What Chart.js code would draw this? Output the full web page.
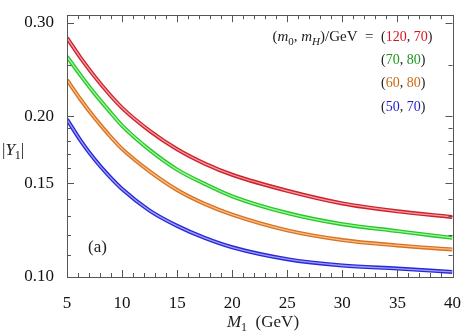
<!DOCTYPE html>
<html>
<head>
<meta charset="utf-8">
<script src="https://cdn.jsdelivr.net/npm/chart.js@4.4.0/dist/chart.umd.min.js"></script>
<style>
  html, body { margin: 0; padding: 0; background: #fff; }
  #wrap { width: 469px; height: 336px; }
</style>
</head>
<body>
<div id="wrap"><canvas id="myChart" width="469" height="336"></canvas></div>
<script>
// M1 (GeV) sample points
const mass = [5, 6.25, 7.5, 8.75, 10, 12.5, 15, 17.5, 20, 25, 30, 35, 40];
// |Y1| for each (m0, mH) pair
const y120_70 = [0.2809, 0.2573, 0.2378, 0.2213, 0.2076, 0.1880, 0.1736, 0.1632, 0.1555, 0.1451, 0.1374, 0.1328, 0.1296];
const y70_80 = [0.2590, 0.2386, 0.2209, 0.2058, 0.1923, 0.1731, 0.1590, 0.1495, 0.1417, 0.1318, 0.1256, 0.1219, 0.1184];
const y60_80 = [0.2343, 0.2150, 0.1988, 0.1853, 0.1739, 0.1578, 0.1456, 0.1371, 0.1309, 0.1223, 0.1173, 0.1146, 0.1126];
const y50_70 = [0.1975, 0.1800, 0.1662, 0.1552, 0.1462, 0.1332, 0.1247, 0.1184, 0.1137, 0.1080, 0.1051, 0.1037, 0.1022];

const pairs = [['120', '70'], ['70', '80'], ['60', '80'], ['50', '70']];
const xTicks = [5, 10, 15, 20, 25, 30, 35, 40];
const yTicks = [0.10, 0.15, 0.20, 0.30];
const yMinor = [0.11, 0.12, 0.13, 0.14, 0.16, 0.17, 0.18, 0.19, 0.25];

const edge = ['rgb(205,35,45)', 'rgb(40,200,40)', 'rgb(215,115,35)', 'rgb(40,40,215)'];
const core = ['rgb(245,160,165)', 'rgb(165,245,165)', 'rgb(250,190,135)', 'rgb(160,160,250)'];
const textCol = ['rgb(215,20,30)', 'rgb(30,150,30)', 'rgb(200,105,20)', 'rgb(30,30,215)'];

const series = [y120_70, y70_80, y60_80, y50_70];
const datasets = [];
series.forEach((vals, i) => {
    const pts = mass.map((m, k) => ({x: m, y: vals[k]}));
    datasets.push({data: pts, borderColor: edge[i], borderWidth: 4, pointRadius: 0,
        cubicInterpolationMode: 'monotone', order: 1});
    datasets.push({data: pts, borderColor: core[i], borderWidth: 1.3, pointRadius: 0,
        cubicInterpolationMode: 'monotone', order: 0});
});

const SERIF = '"Liberation Serif", "DejaVu Serif", serif';

// draw a run of text pieces: {t, it, sub, c}
function rich(ctx, parts, x, y, size, align) {
    const font = (p) => (p.it ? 'italic ' : '') + (p.sub ? Math.round(size * 0.7) : size) + 'px ' + SERIF;
    let w = 0;
    parts.forEach(p => { ctx.font = font(p); w += ctx.measureText(p.t).width; });
    let cx = align === 'right' ? x - w : (align === 'center' ? x - w / 2 : x);
    ctx.textBaseline = 'alphabetic';
    ctx.textAlign = 'left';
    parts.forEach(p => {
        ctx.font = font(p);
        ctx.fillStyle = p.c || '#222';
        ctx.fillText(p.t, cx, y + (p.sub ? size * 0.25 : 0));
        cx += ctx.measureText(p.t).width;
    });
}

const decor = {
    id: 'decor',
    afterDraw(chart) {
        const ctx = chart.ctx;
        const a = chart.chartArea;
        const xs = chart.scales.x, ys = chart.scales.y;
        ctx.save();
        ctx.strokeStyle = '#555';
        ctx.lineWidth = 1;
        ctx.strokeRect(Math.round(a.left) + 0.5, Math.round(a.top) + 0.5,
            Math.round(a.right - a.left), Math.round(a.bottom - a.top));
        ctx.beginPath();
        for (let v = 5; v <= 40; v++) {
            const px = Math.round(xs.getPixelForValue(v)) + 0.5;
            const len = v % 5 === 0 ? 7 : 4;
            ctx.moveTo(px, a.bottom); ctx.lineTo(px, a.bottom - len);
            ctx.moveTo(px, a.top); ctx.lineTo(px, a.top + len);
        }
        yTicks.concat(yMinor).forEach(v => {
            const py = Math.round(ys.getPixelForValue(v)) + 0.5;
            const len = yTicks.includes(v) ? 7 : 4;
            ctx.moveTo(a.left, py); ctx.lineTo(a.left + len, py);
            ctx.moveTo(a.right, py); ctx.lineTo(a.right - len, py);
        });
        ctx.stroke();

        // axis titles
        rich(ctx, [{t: 'M', it: true}, {t: '1', sub: true}, {t: '  (GeV)'}], 263, 327, 17, 'center');
        rich(ctx, [{t: '|'}, {t: 'Y', it: true}, {t: '1', sub: true}, {t: '|'}], 2, 155, 17, 'left');
        rich(ctx, [{t: '(a)'}], 88, 252, 17, 'left');

        // legend
        rich(ctx, [{t: '('}, {t: 'm', it: true}, {t: '0', sub: true}, {t: ', '}, {t: 'm', it: true},
            {t: 'H', it: true, sub: true}, {t: ')/GeV  =  '}], 381, 41, 15, 'right');
        const rows = [41, 64, 87, 111];
        pairs.forEach((p, i) => {
            rich(ctx, [{t: '('}, {t: p[0], c: textCol[i]}, {t: ', '}, {t: p[1], c: textCol[i]}, {t: ')'}],
                381, rows[i], 14, 'left');
        });
        ctx.restore();
    }
};

const ctx = document.getElementById('myChart').getContext('2d');
const myChart = new Chart(ctx, {
    type: 'line',
    data: {datasets: datasets},
    options: {
        responsive: false,
        animation: false,
        layout: {padding: {top: 3, right: 10, left: 0, bottom: 0}},
        plugins: {legend: {display: false}, tooltip: {enabled: false}},
        scales: {
            x: {
                type: 'linear', min: 5, max: 40,
                grid: {display: false}, border: {display: false},
                afterBuildTicks: s => { s.ticks = xTicks.map(v => ({value: v})); },
                afterFit: s => { s.height = 59; },
                ticks: {color: '#111', padding: 8, maxRotation: 0,
                    font: {family: SERIF, size: 17}}
            },
            y: {
                type: 'logarithmic', min: 0.1, max: 0.3097,
                grid: {display: false}, border: {display: false},
                afterBuildTicks: s => { s.ticks = yTicks.map(v => ({value: v})); },
                afterFit: s => { s.width = 67; },
                ticks: {color: '#111', padding: 5, callback: v => Number(v).toFixed(2),
                    font: {family: SERIF, size: 17}}
            }
        }
    },
    plugins: [decor]
});
</script>
</body>
</html>
